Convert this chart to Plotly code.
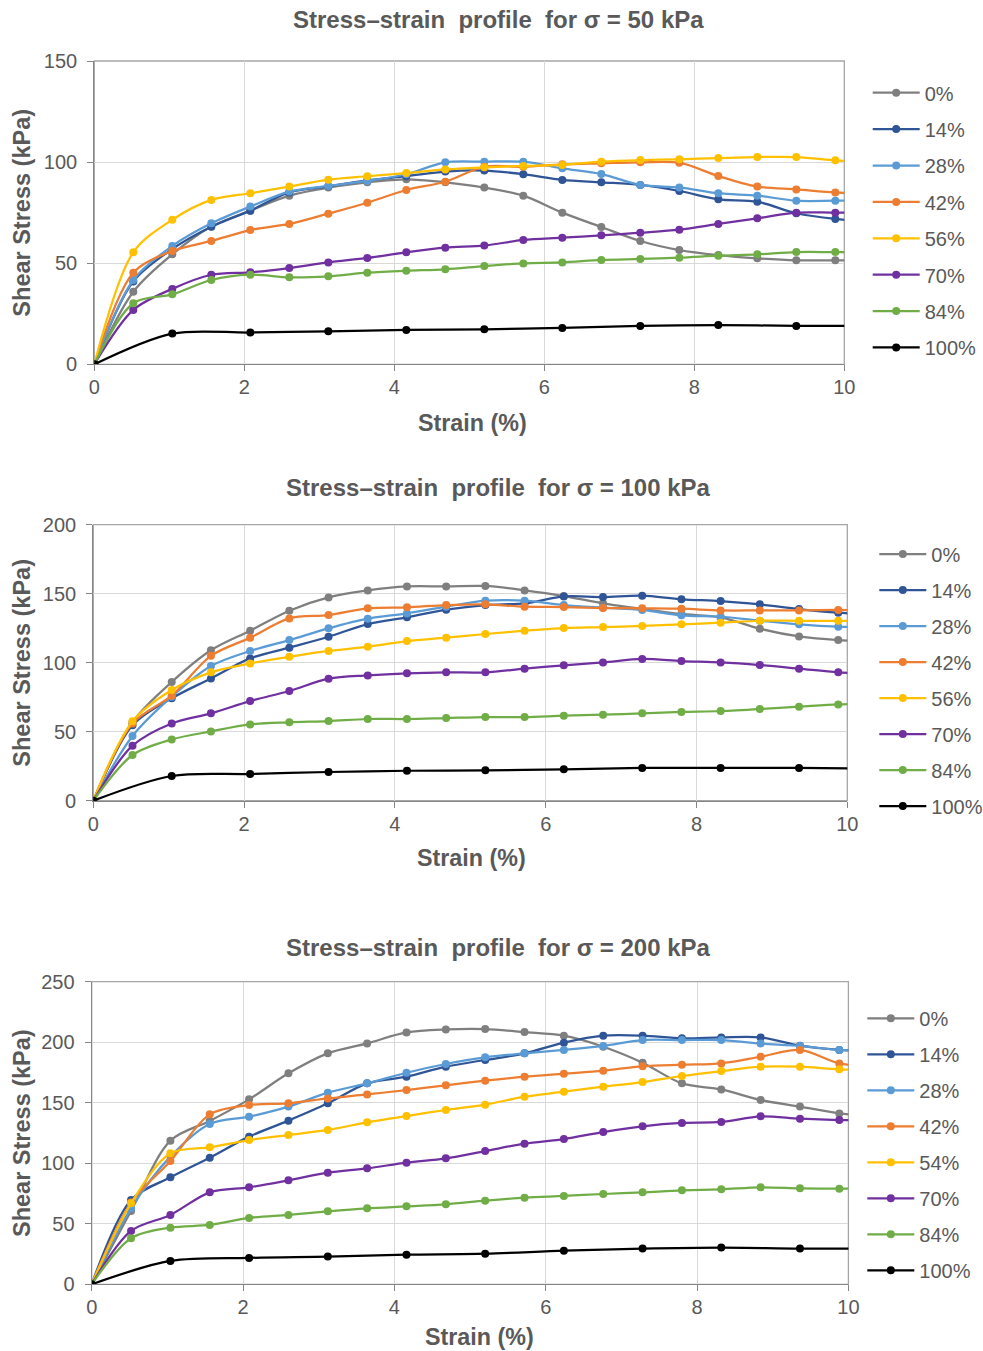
import plotly.graph_objects as go

# ---------------- data ----------------
strain = [0, 0.52, 1.04, 1.56, 2.08, 2.6, 3.12, 3.64, 4.16, 4.68, 5.2, 5.72,
          6.24, 6.76, 7.28, 7.8, 8.32, 8.84, 9.36, 9.88, 10.4]
strain_sparse = [0, 1.04, 2.08, 3.12, 4.16, 5.2, 6.24, 7.28, 8.32, 9.36, 10.4]

names_a = ["0%", "14%", "28%", "42%", "56%", "70%", "84%", "100%"]
names_c = ["0%", "14%", "28%", "42%", "54%", "70%", "84%", "100%"]

# sigma = 50 kPa
s50_0 = [0, 35.9, 54.4, 68.1, 76.0, 83.4, 87.4, 90.0, 91.5, 90.0, 87.4, 83.4, 75.0, 67.9, 61.0, 56.5, 54.0, 52.4, 51.4, 51.4, 51.4]
s50_14 = [0, 41, 57, 68, 76, 85, 88, 91, 93, 95.3, 95.8, 94, 91.2, 90, 88.7, 85.7, 81.6, 80.4, 74.7, 71.9, 70.5]
s50_28 = [0, 41.7, 58.5, 69.7, 78, 85.4, 88.2, 90.7, 94, 99.9, 100.2, 100.2, 96.9, 94.1, 88.7, 87.5, 84.6, 83.4, 80.9, 80.9, 80.9]
s50_42 = [0, 45.3, 56, 61, 66.4, 69.4, 74.5, 79.9, 86.2, 90.3, 97.7, 97.7, 98.9, 99.4, 99.9, 99.7, 93.1, 87.9, 86.5, 85, 84]
s50_56 = [0, 55.4, 71.5, 81.3, 84.6, 87.9, 91.3, 93, 94.6, 96.4, 97.4, 98.1, 98.6, 100.2, 101, 101.4, 102, 102.5, 102.5, 100.9, 99.5]
s50_70 = [0, 26.9, 37.3, 44.3, 45.5, 47.6, 50.4, 52.6, 55.4, 57.7, 58.7, 61.5, 62.6, 63.8, 65.1, 66.6, 69.4, 72.2, 75, 75, 75]
s50_84 = [0, 30.2, 34.6, 41.7, 44.3, 43, 43.5, 45.3, 46.3, 47, 48.6, 49.9, 50.4, 51.6, 52.1, 52.7, 53.7, 54.4, 55.5, 55.5, 55.5]
s50_100 = [0, 15.2, 15.7, 16.3, 17, 17.3, 18, 19, 19.4, 19, 19]

# sigma = 100 kPa
s100_0 = [0, 57, 86, 109, 123.2, 137.7, 147.3, 152.4, 155.3, 155.3, 155.6, 152.4, 148.3, 143, 138.9, 135.3, 132.9, 124.6, 119, 116.4, 115.5]
s100_14 = [0, 54.6, 74.2, 88.6, 103.1, 110.9, 118.8, 128, 132.9, 138.4, 141.8, 143, 148, 147.6, 148.6, 145.9, 144.7, 142.3, 138.9, 136.2, 134.5]
s100_28 = [0, 46.9, 75.4, 97.6, 108.5, 116.4, 124.9, 131.9, 135.7, 140.6, 144.9, 144.9, 141.8, 139.9, 138.2, 134.3, 133.3, 130.4, 127.8, 126.1, 125.5]
s100_42 = [0, 56, 76.1, 105, 118.1, 132.1, 134.5, 139.4, 140.1, 141.8, 142.3, 140.6, 140.3, 139.6, 139.4, 139.1, 137.9, 137.9, 137.9, 138.2, 138]
s100_56 = [0, 57.5, 80.2, 93, 99.5, 104.3, 108.5, 111.6, 115.7, 118.1, 120.8, 123.2, 125.1, 125.8, 126.6, 127.8, 129, 130.4, 130.4, 130.4, 130.4]
s100_70 = [0, 39.9, 56, 63.3, 72.2, 79.5, 88.4, 90.8, 92.3, 93, 93, 95.7, 98.1, 100.2, 102.7, 101.2, 100.2, 98.3, 95.7, 93, 92]
s100_84 = [0, 33.1, 44.4, 50.2, 55.3, 56.8, 57.7, 59.2, 59.2, 59.9, 60.6, 60.6, 61.6, 62.3, 63.3, 64.3, 65, 66.4, 68.1, 69.8, 70.5]
s100_100 = [0, 17.9, 19.3, 20.8, 21.7, 22, 22.7, 23.7, 23.7, 23.7, 23.2]

# sigma = 200 kPa
s200_0 = [0, 60.6, 118.7, 135, 152.8, 174.3, 190.8, 199, 208.1, 210.6, 210.9, 208.4, 205.4, 196.3, 183.1, 166, 161, 152.3, 146.8, 141.2, 139]
s200_14 = [0, 69.7, 88.4, 104.6, 122, 135.2, 149.5, 166, 171.5, 179.8, 185.3, 190.8, 199.6, 205.4, 205.4, 203.2, 204, 204, 197.1, 193.6, 193]
s200_28 = [0, 62.8, 105.5, 132.4, 138.5, 146.8, 158.3, 166, 174.8, 182, 187.5, 190.8, 193.6, 196.9, 201.8, 201.8, 201.8, 199, 196.9, 193.6, 193]
s200_42 = [0, 67.5, 101.9, 140.4, 148.1, 149.5, 153.6, 156.9, 160.5, 164.4, 168.2, 171.5, 174, 176.5, 180.1, 181.4, 182.5, 188, 193.6, 182.5, 180]
s200_54 = [0, 66.9, 108.2, 113.2, 119.2, 123.3, 127.5, 133.8, 139, 144, 148.4, 155, 159.1, 163.3, 167.1, 172.1, 176.2, 179.8, 179.8, 177.6, 177]
s200_70 = [0, 44.1, 57.3, 76, 80.1, 85.9, 92.2, 95.8, 100.5, 104.1, 110.1, 116.2, 120, 125.8, 130.5, 133.3, 134.1, 138.8, 136.8, 135.7, 135.5]
s200_84 = [0, 38, 46.8, 49, 54.8, 57.3, 60.3, 62.8, 64.4, 66.1, 69.1, 71.6, 73, 74.6, 76, 77.6, 78.5, 80.1, 79.3, 79, 79]
s200_100 = [0, 19.3, 21.8, 22.9, 24.5, 25.3, 27.8, 29.5, 30.3, 29.5, 29.5]

titles = ["Stress\u2013strain  profile  for \u03c3 = 50 kPa",
          "Stress\u2013strain  profile  for \u03c3 = 100 kPa",
          "Stress\u2013strain  profile  for \u03c3 = 200 kPa"]
y_max = [150, 200, 250]

# ---------------- styling ----------------
W, H = 983, 1351  # page body margin is removed below, so figure == page


def fx(p):
    return p / W


def fy(p):
    return 1 - p / H


colors = ["#7F7F7F", "#2F5597", "#5B9BD5", "#ED7D31", "#FFC000", "#7030A0", "#70AD47", "#000000"]
FONT = "Liberation Sans, Arial, sans-serif"
TXT = "#595959"

panels = [
    dict(series=[s50_0, s50_14, s50_28, s50_42, s50_56, s50_70, s50_84, s50_100], names=names_a,
         px=(94.3, 844.3), py=(61, 364.3), leg_x=867.7, leg_top=73.2, gap=7.4,
         title_y=19, xt_x=472, xt_y=423),
    dict(series=[s100_0, s100_14, s100_28, s100_42, s100_56, s100_70, s100_84, s100_100], names=names_a,
         px=(93.3, 847.3), py=(524.7, 800.7), leg_x=874.3, leg_top=534.5, gap=7.0,
         title_y=487, xt_x=471, xt_y=858),
    dict(series=[s200_0, s200_14, s200_28, s200_42, s200_54, s200_70, s200_84, s200_100], names=names_c,
         px=(91.7, 848.4), py=(981.7, 1284.3), leg_x=862.3, leg_top=998.8, gap=7.0,
         title_y=947, xt_x=479, xt_y=1337),
]

fig = go.Figure()
annotations = []
shapes = []
layout = dict(width=W, height=H, margin=dict(l=0, r=0, t=0, b=0, autoexpand=False),
              paper_bgcolor="white", plot_bgcolor="white",
              font=dict(family=FONT, color=TXT, size=20), showlegend=True)

for i, p in enumerate(panels):
    k = "" if i == 0 else str(i + 1)
    xa, ya = "x" + k, "y" + k
    leg = "legend" + k
    for j, (vals, nm) in enumerate(zip(p["series"], p["names"])):
        xs = strain_sparse if j == 7 else strain
        fig.add_trace(go.Scatter(
            x=xs, y=vals, name=nm, mode="lines+markers",
            line=dict(color=colors[j], width=2.25, shape="spline", smoothing=0.9),
            marker=dict(color=colors[j], size=8),
            xaxis=xa, yaxis=ya, legend=leg, legendgroup=f"p{i}_{j}",
        ))
    x0, x1 = p["px"]
    y0, y1 = p["py"]
    axis_common = dict(showgrid=True, gridcolor="#D9D9D9", gridwidth=1.3,
                       showline=True, linecolor="#868686", linewidth=1.3,
                       ticks="outside", ticklen=6, tickcolor="#868686", tickwidth=1.3,
                       tickfont=dict(family=FONT, size=20, color=TXT), zeroline=False,
                       automargin=False)
    layout["xaxis" + k] = dict(domain=[fx(x0), fx(x1)], range=[0, 10], dtick=2, tick0=0,
                               anchor=ya, ticklabelstandoff=-1, **axis_common)
    layout["yaxis" + k] = dict(domain=[fy(y1), fy(y0)], range=[0, y_max[i]], dtick=50,
                               anchor=xa, ticklabelstandoff=6, **axis_common)
    shapes.append(dict(type="rect", xref=xa + " domain", yref=ya + " domain", x0=0, x1=1, y0=0, y1=1,
                       line=dict(color="#A6A6A6", width=1.3), layer="below"))
    layout[leg] = dict(x=fx(p["leg_x"]), xanchor="left", y=fy(p["leg_top"]), yanchor="top",
                       font=dict(family=FONT, size=20, color=TXT), tracegroupgap=p["gap"],
                       bgcolor="rgba(0,0,0,0)", itemwidth=47)
    annotations.append(dict(text="<b>" + titles[i] + "</b>", xref="paper", yref="paper",
                            x=fx(498), y=fy(p["title_y"]), showarrow=False,
                            font=dict(family=FONT, size=24, color=TXT), xanchor="center", yanchor="middle"))
    annotations.append(dict(text="<b>Strain (%)</b>", xref="paper", yref="paper",
                            x=fx(p["xt_x"]), y=fy(p["xt_y"]), showarrow=False,
                            font=dict(family=FONT, size=23.3, color=TXT), xanchor="center", yanchor="middle"))
    annotations.append(dict(text="<b>Shear Stress (kPa)</b>", xref="paper", yref="paper",
                            x=fx(22), y=fy((y0 + y1) / 2), showarrow=False, textangle=-90,
                            font=dict(family=FONT, size=23.5, color=TXT), xanchor="center", yanchor="middle"))

layout["annotations"] = annotations
layout["shapes"] = shapes
fig.update_layout(**layout)
fig.write_html("out.html", config={"displayModeBar": False},
               post_script="document.body.style.margin='0';document.body.style.overflow='hidden';")
